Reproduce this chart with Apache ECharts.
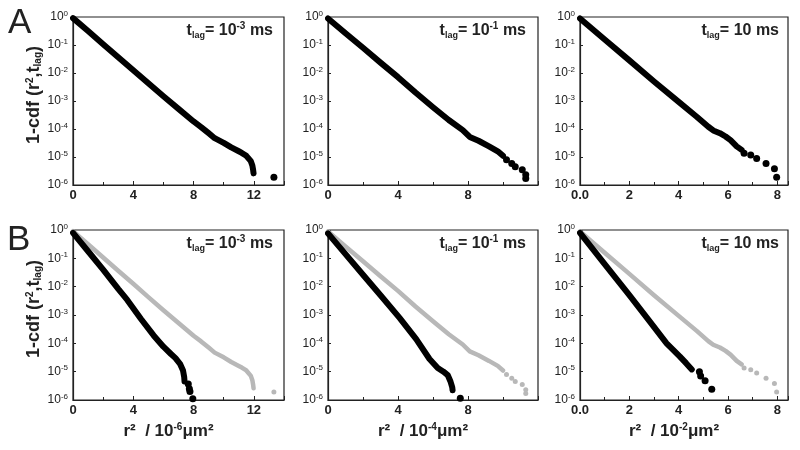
<!DOCTYPE html>
<html><head><meta charset="utf-8">
<script src="https://cdn.jsdelivr.net/npm/echarts@6/dist/echarts.min.js"></script>
<style>html,body{margin:0;padding:0;background:#fff}#c{width:800px;height:450px}</style>
</head><body><div id="c"></div>
<script>
// ---- data (x = r², y = 1-cdf) ----
// t_lag = 10^-3 ms (single population; also grey in panel B)
const xA1 = [0,1,2,3,4,5,6,7,8,8.5,9,9.4,10,10.5,11.0,11.2,11.5,11.8,11.9,11.95,11.98];
const yA1 = [0.912,0.316,0.107,0.0363,0.0126,4.27e-3,1.48e-3,5.25e-4,1.86e-4,1.17e-4,7.1e-5,4.7e-5,3.2e-5,2.2e-5,1.6e-5,1.4e-5,1.1e-5,7.1e-6,5.0e-6,3.5e-6,2.6e-6];
const xA1tail = [13.33];
const yA1tail = [1.9e-6];
// t_lag = 10^-1 ms
const xA2 = [0,1,2,3,4,5,6,6.9,7.7,8.1,8.6,9.2,9.7,10.0];
const yA2 = [0.89,0.263,0.0794,0.0234,7.1e-3,2.0e-3,6.0e-4,2.1e-4,9.1e-5,5.2e-5,3.8e-5,2.4e-5,1.6e-5,1.1e-5];
const xA2tail = [10.2,10.5,10.7,11.1,11.3,11.3];
const yA2tail = [7.9e-6,5.9e-6,4.5e-6,3.5e-6,2.3e-6,1.7e-6];
// t_lag = 10 ms
const xA3 = [0,1,2,3,4,4.73,5.2,5.4,5.67,5.9,6.1,6.35,6.55];
const yA3 = [0.89,0.158,0.0282,5.0e-3,9.3e-4,2.75e-4,1.2e-4,8.9e-5,7.1e-5,5.4e-5,4.0e-5,2.4e-5,1.8e-5];
const xA3tail = [6.65,6.92,7.16,7.54,7.88,7.97];
const yA3tail = [1.35e-5,1.17e-5,8.9e-6,5.9e-6,3.8e-6,1.9e-6];
// panel B black populations
const xB1 = [0,1,2,3,3.6,4.5,5.35,6.0,6.5,6.8,7.1,7.3,7.38,7.4];
const yB1 = [0.794,0.178,0.0398,8.3e-3,3.4e-3,7.4e-4,1.9e-4,7.6e-5,4.2e-5,3.0e-5,1.9e-5,1.1e-5,6.3e-6,4.5e-6];
const xB1tail = [7.65,7.72,7.76,7.95];
const yB1tail = [3.7e-6,2.5e-6,2.0e-6,1.1e-6];
const xB2 = [0,1,2,3,4.09,5.04,5.8,6.27,6.6,6.84,7.0,7.1,7.12];
const yB2 = [0.759,0.141,0.0263,5.0e-3,7.9e-4,1.41e-4,2.8e-5,1.35e-5,1.0e-5,7.6e-6,4.5e-6,2.8e-6,2.2e-6];
const xB2tail = [7.56];
const yB2tail = [1.15e-6];
const xB3 = [0,1,2,2.84,3.51,4.05,4.3,4.53];
const yB3 = [0.794,0.063,5.0e-3,5.75e-4,1.0e-4,3.4e-5,2.0e-5,1.2e-5];
const xB3tail = [4.84,4.89,5.07,5.34];
const yB3tail = [1.0e-5,7.1e-6,4.8e-6,2.4e-6];
// labels
const lagExp = ['-3','-1',null];      // t_lag = 10^-3, 10^-1, 10 ms
const unitExp = ['-6','-4','-2'];     // r² / 10^n μm²
const xMax = [14,12,8.43];
const xInterval = [4,4,2];

const zip = (xs, ys) => xs.map((x,i)=>[x, ys[i]]);
const FONT = 'Liberation Sans, Arial, sans-serif';
const TXT = '#222';

const cols = [{left:73,width:211},{left:328,width:210},{left:580,width:208}];
const rows = [{top:17,height:168},{top:230,height:170}];

const grids=[], xAxes=[], yAxes=[], series=[], titles=[];
const supRich = {
  b:{fontSize:12,color:TXT,fontFamily:FONT},
  sup:{fontSize:8,color:TXT,fontFamily:FONT,padding:[0,0,7,0]}
};
const mainA = [[xA1,yA1,xA1tail,yA1tail],[xA2,yA2,xA2tail,yA2tail],[xA3,yA3,xA3tail,yA3tail]];
const mainB = [[xB1,yB1,xB1tail,yB1tail],[xB2,yB2,xB2tail,yB2tail],[xB3,yB3,xB3tail,yB3tail]];

let gi = 0;
for (let r=0;r<2;r++){
  for (let c=0;c<3;c++){
    grids.push({left:cols[c].left,width:cols[c].width,top:rows[r].top,height:rows[r].height,
      show:true,borderColor:'#222',borderWidth:1.2,backgroundColor:'transparent',containLabel:false});
    const xa = {gridIndex:gi,type:'value',min:0,max:xMax[c],interval:xInterval[c],
      axisLine:{show:true,lineStyle:{color:'#222',width:1.2}},
      axisTick:{show:true,inside:true,length:4,lineStyle:{color:'#222'}},
      minorTick:{show:true,splitNumber:2,length:3,lineStyle:{color:'#222'}},
      splitLine:{show:false},
      axisLabel:{showMaxLabel:false,margin:4,color:TXT,fontFamily:FONT,fontSize:13,fontWeight:'bold',
        formatter: v => (c===2 && v===0) ? '0.0' : String(v)}};
    if (r===1){
      xa.name = '{b|r²  / 10}{s|' + unitExp[c] + '}{b|μm²}';
      xa.nameLocation='middle'; xa.nameGap=22;
      xa.nameTextStyle={padding:[0,20,0,0],rich:{
        b:{fontSize:17,fontWeight:'bold',color:TXT,fontFamily:FONT},
        s:{fontSize:10,fontWeight:'bold',color:TXT,fontFamily:FONT,padding:[0,0,9,0]}}};
    }
    xAxes.push(xa);
    const ya = {gridIndex:gi,type:'log',logBase:10,min:1e-6,max:1,
      axisLine:{show:true,lineStyle:{color:'#222',width:1.2}},
      axisTick:{show:true,inside:true,length:3,lineStyle:{color:'#222'}},
      splitLine:{show:false},
      axisLabel:{margin:5,color:TXT,fontFamily:FONT,fontSize:12,rich:supRich,
        formatter: v => '{b|10}{sup|' + Math.round(Math.log10(v)) + '}'}};
    if (c===0){
      ya.name='{b|1-cdf (r}{sup|2}{b|,t}{sub|lag}{b|)}';
      ya.nameLocation='middle'; ya.nameGap=29; ya.nameRotate=90;
      ya.nameTextStyle={padding:[0,0,0,12],rich:{
        b:{fontSize:18,fontWeight:'bold',color:TXT,fontFamily:FONT},
        sup:{fontSize:10,fontWeight:'bold',color:TXT,fontFamily:FONT,padding:[0,0,9,0]},
        sub:{fontSize:10,fontWeight:'bold',color:TXT,fontFamily:FONT,padding:[8,0,0,0]}}};
    }
    yAxes.push(ya);

    // in-panel lag label
    const rightEdge = [273,526,779][c];
    const lagText = lagExp[c] === null
      ? '{b|t}{sub|lag}{b|= 10 ms}'
      : '{b|t}{sub|lag}{b|= 10}{sup|' + lagExp[c] + '}{b| ms}';
    titles.push({text:lagText,right:800-rightEdge,top:rows[r].top+4,padding:0,
      textStyle:{rich:{
        b:{fontSize:16,fontWeight:'bold',color:TXT,fontFamily:FONT},
        sub:{fontSize:9,color:TXT,fontFamily:FONT,padding:[10,0,0,0]},
        sup:{fontSize:10,fontWeight:'bold',color:TXT,fontFamily:FONT,padding:[0,0,8,0]}}}});

    const A = mainA[c];
    const addPair = (xs, ys, txs, tys, color, w, s) => {
      series.push({type:'line',xAxisIndex:gi,yAxisIndex:gi,data:zip(xs,ys),
        showSymbol:false,lineStyle:{color:color,width:w,cap:'round',join:'round',opacity:1},silent:true});
      series.push({type:'scatter',xAxisIndex:gi,yAxisIndex:gi,data:zip(txs,tys),
        symbolSize:s,itemStyle:{color:color,opacity:1},silent:true});
    };
    if (r===0){
      addPair(A[0],A[1],A[2],A[3],'#000',6,7);
    } else {
      const B = mainB[c];
      addPair(A[0],A[1],A[2],A[3],'#b8b8b8',4.5,5);
      addPair(B[0],B[1],B[2],B[3],'#000',6,7);
    }
    gi++;
  }
}
titles.push({text:'A',left:8,top:6,padding:0,textStyle:{fontSize:35,fontWeight:'normal',color:TXT,fontFamily:FONT}});
titles.push({text:'B',left:7,top:223,padding:0,textStyle:{fontSize:35,fontWeight:'normal',color:TXT,fontFamily:FONT}});

const chart = echarts.init(document.getElementById('c'),null,{renderer:'canvas'});
chart.setOption({animation:false,backgroundColor:'#fff',title:titles,grid:grids,xAxis:xAxes,yAxis:yAxes,series:series});
</script></body></html>
